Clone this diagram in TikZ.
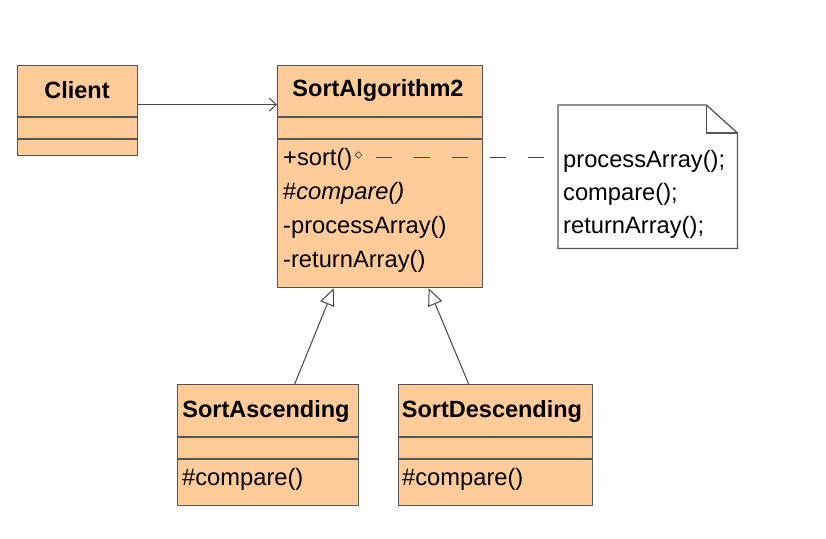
\documentclass[tikz,border=0pt]{standalone}
\usepackage{fontspec}
\setmainfont{Liberation Sans}
\usetikzlibrary{arrows.meta,shapes.geometric}
\definecolor{peach}{RGB}{255,204,153}
\definecolor{boxline}{RGB}{85,85,85}
\definecolor{arrline}{RGB}{70,70,70}
\begin{document}
\begin{tikzpicture}[x=1pt,y=-1pt,
  classbox/.style={draw=boxline, fill=peach, line width=1.3pt, inner sep=0pt, anchor=north west},
  divider/.style={draw=boxline, line width=1.3pt},
  title/.style={font=\fontsize{23.5}{27}\selectfont\bfseries, inner sep=0pt},
  member/.style={font=\fontsize{23.7}{27}\selectfont, inner sep=0pt, anchor=west},
  assoc/.style={draw=arrline, line width=1pt, -{Straight Barb[length=7pt,width=13pt]}},
  general/.style={draw=arrline, line width=1pt, -{Triangle[open,length=17pt,width=15pt,fill=white]}},
  notelink/.style={draw=arrline, line width=1pt, dash pattern=on 16pt off 22pt},
]
\useasboundingbox (0,0) rectangle (826,538);

% Client
\node[classbox, minimum width=120pt, minimum height=90pt] (client) at (17,65) {};
\draw[divider] ([yshift=-52pt]client.north west) -- ([yshift=-52pt]client.north east);
\draw[divider] ([yshift=-74pt]client.north west) -- ([yshift=-74pt]client.north east);
\node[title] (clientname) at (77,90) {Client};

% SortAlgorithm2
\node[classbox, minimum width=205pt, minimum height=222pt] (sa) at (277,65) {};
\draw[divider] ([yshift=-52pt]sa.north west) -- ([yshift=-52pt]sa.north east);
\draw[divider] ([yshift=-74pt]sa.north west) -- ([yshift=-74pt]sa.north east);
\node[title] (saname) at (378,90) {SortAlgorithm2};
\node[member] (m1) at (283,159) {+sort()};
\node[member] (m2) at (283,193) {\#\itshape compare()};
\node[member] (m3) at (283,227) {-processArray()};
\node[member] (m4) at (283,261) {-returnArray()};
\node[diamond, draw=boxline, line width=0.8pt, minimum size=7pt, inner sep=0pt] (dia) at ([xshift=6pt,yshift=4pt]m1.east) {};

% SortAscending
\node[classbox, minimum width=181pt, minimum height=121pt] (asc) at (177,384) {};
\draw[divider] ([yshift=-53pt]asc.north west) -- ([yshift=-53pt]asc.north east);
\draw[divider] ([yshift=-75pt]asc.north west) -- ([yshift=-75pt]asc.north east);
\node[title] (ascname) at (266,411) {SortAscending};
\node[member] (ascm) at (182,479) {\#compare()};

% SortDescending
\node[classbox, minimum width=194pt, minimum height=121pt] (desc) at (398,384) {};
\draw[divider] ([yshift=-53pt]desc.north west) -- ([yshift=-53pt]desc.north east);
\draw[divider] ([yshift=-75pt]desc.north west) -- ([yshift=-75pt]desc.north east);
\node[title] (descname) at (492,411) {SortDescending};
\node[member] (descm) at (402,479) {\#compare()};

% Note
\node[inner sep=0pt, minimum width=179pt, minimum height=143pt, anchor=north west] (note) at (558,105) {};
\draw[draw=boxline, line width=1.3pt, fill=white]
  (note.north west) -- ([xshift=-31pt]note.north east) -- ([yshift=-28pt]note.north east)
  -- (note.south east) -- (note.south west) -- cycle;
\draw[draw=boxline, line width=1.3pt]
  ([xshift=-31pt]note.north east) -- ([xshift=-31pt,yshift=-28pt]note.north east) -- ([yshift=-28pt]note.north east);
\node[member] (n1) at (563,161) {processArray();};
\node[member] (n2) at (563,194) {compare();};
\node[member] (n3) at (563,227) {returnArray();};

% Connectors
\draw[assoc] ([yshift=6pt]client.east) -- ([yshift=6pt]client.east -| sa.west);
\coordinate (dstart) at (376,157);
\draw[notelink] (dstart) -- (dstart -| note.west);
\draw[general] ([xshift=26.5pt]asc.north) -- ([xshift=-46.5pt]sa.south);
\draw[general] ([xshift=-27pt]desc.north) -- ([xshift=48.5pt]sa.south);
\end{tikzpicture}
\end{document}
